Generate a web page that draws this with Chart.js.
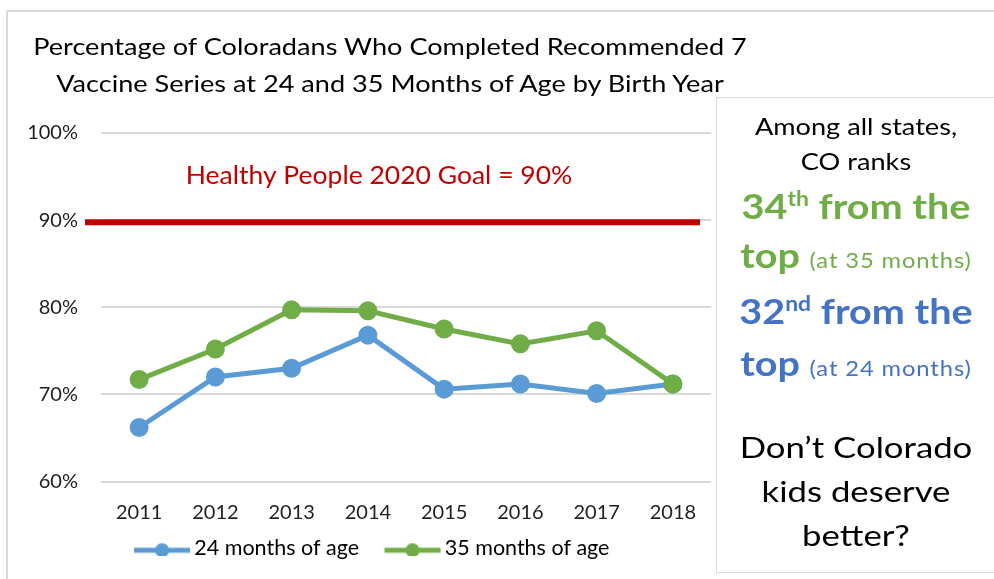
<!DOCTYPE html>
<html>
<head>
<meta charset="utf-8">
<script src="https://cdn.jsdelivr.net/npm/chart.js@4/dist/chart.umd.min.js"></script>
<style>
  body { margin: 0; background: #fff; font-family: Lato, sans-serif; }
  #wrap { position: relative; width: 994px; height: 579px; overflow: hidden; background: #fff; }
  #frame { position: absolute; left: 6px; top: 10px; width: 1000px; height: 600px;
           border-top: 2px solid #d9d9d9; border-left: 2px solid #d9d9d9; }
  #chart { position: absolute; left: 0; top: 0; }
  #title { position: absolute; left: 0; top: 28px; width: 780px; text-align: center;
           font-size: 24px; line-height: 36.7px; color: #000; transform: scaleX(1.13); }
  #side { position: absolute; left: 716px; top: 97px; width: 290px; height: 476px;
          background: #fff; border: 1px solid #d9d9d9; box-sizing: border-box; }
  #side div { position: absolute; left: 0; width: 278px; height: 40px; line-height: 40px;
              text-align: center; white-space: nowrap; }
  #side sup { font-size: 0.58em; line-height: 0; vertical-align: 0.62em; }
  .blk { font-size: 23px; color: #000; transform: scaleX(1.18); }
  .big { font-size: 28px; color: #000; transform: scaleX(1.24); }
  .g { color: #70ad47; font-weight: bold; font-size: 35px; transform: scaleX(1.13); }
  .b { color: #4472c4; font-weight: bold; font-size: 35px; transform: scaleX(1.13); }
  .sm { font-weight: normal; font-size: 21px; letter-spacing: 0.8px; }
</style>
</head>
<body>
<div id="wrap">
  <div id="frame"></div>
  <canvas id="chart" width="994" height="579"></canvas>
  <div id="title">Percentage of Coloradans Who Completed Recommended 7<br>Vaccine Series at 24 and 35 Months of Age by Birth Year</div>
  <div id="side">
    <div class="blk" style="top:8px">Among all states,</div>
    <div class="blk" style="top:43px">CO ranks</div>
    <div class="g" style="top:87px">34<sup>th</sup> from the</div>
    <div class="g" style="top:136px">top <span class="sm">(at 35 months)</span></div>
    <div class="b" style="top:192px">32<sup>nd</sup> from the</div>
    <div class="b" style="top:244px">top <span class="sm">(at 24 months)</span></div>
    <div class="big" style="top:329px">Don’t Colorado</div>
    <div class="big" style="top:373px">kids deserve</div>
    <div class="big" style="top:417px">better?</div>
  </div>
</div>
<script>
const years = ['2011', '2012', '2013', '2014', '2015', '2016', '2017', '2018']
const months24 = [66.2, 72.0, 73.0, 76.8, 70.6, 71.2, 70.1, 71.2]
const months35 = [71.7, 75.2, 79.7, 79.6, 77.5, 75.8, 77.3, 71.2]
const goal = 90
const goalLabel = 'Healthy People 2020 Goal = 90%'

const blue = '#5b9bd5'
const green = '#70ad47'
const red = '#c00000'
const tickColor = '#1e1e1e'

// line + dot sample for the legend; the empty left part of the box acts as the gap between items
function legendMark(color) {
    let c = document.createElement('canvas')
    c.width = 82
    c.height = 16
    let ctx = c.getContext('2d')
    ctx.strokeStyle = color
    ctx.lineWidth = 5
    ctx.beginPath()
    ctx.moveTo(25, 10)
    ctx.lineTo(81, 10)
    ctx.stroke()
    ctx.fillStyle = color
    ctx.beginPath()
    ctx.arc(53, 10, 7, 0, Math.PI * 2)
    ctx.fill()
    return c
}

const goalLine = {
    id: 'goalLine',
    afterDatasetsDraw(chart) {
        const ctx = chart.ctx
        const area = chart.chartArea
        const y = chart.scales.y.getPixelForValue(goal) + 2
        ctx.save()
        ctx.strokeStyle = red
        ctx.lineWidth = 6
        ctx.beginPath()
        ctx.moveTo(area.left - 16, y)
        ctx.lineTo(area.right - 11, y)
        ctx.stroke()
        ctx.fillStyle = red
        ctx.font = '25px Lato'
        ctx.textAlign = 'center'
        ctx.textBaseline = 'alphabetic'
        ctx.translate(379, y - 38)
        ctx.scale(1.06, 1)
        ctx.fillText(goalLabel, 0, 0)
        ctx.restore()
    }
}

const data = {
    labels: years,
    datasets: [{
        label: '24 months of age',
        data: months24,
        borderColor: blue,
        backgroundColor: blue,
        borderWidth: 5,
        pointRadius: 7,
        pointHoverRadius: 7,
        order: 1
    }, {
        label: '35 months of age',
        data: months35,
        borderColor: green,
        backgroundColor: green,
        borderWidth: 5,
        pointRadius: 7,
        pointHoverRadius: 7,
        order: 0
    }]
}

const marks = [legendMark(blue), legendMark(green)]

const config = {
    type: 'line',
    data: data,
    plugins: [goalLine],
    options: {
        responsive: false,
        animation: false,
        layout: { padding: { left: 15, right: 283, top: 133, bottom: 10 } },
        plugins: {
            tooltip: { enabled: false },
            legend: {
                position: 'bottom',
                labels: {
                    usePointStyle: true,
                    pointStyleWidth: 67,
                    padding: 8,
                    color: tickColor,
                    font: { family: 'Lato', size: 21.5 },
                    generateLabels(chart) {
                        return chart.data.datasets.map((ds, i) => ({
                            text: ds.label,
                            pointStyle: marks[i],
                            fillStyle: ds.borderColor,
                            strokeStyle: ds.borderColor,
                            lineWidth: 0,
                            datasetIndex: i,
                            hidden: false
                        }))
                    }
                }
            }
        },
        scales: {
            x: {
                offset: true,
                grid: { display: false, drawTicks: false },
                border: { display: false },
                ticks: { padding: 19, maxRotation: 0, color: tickColor, font: { family: 'Lato', size: 20 } },
                afterFit(scale) {
                    scale.paddingLeft = 0
                    scale.paddingRight = 0
                    scale.height = 48
                }
            },
            y: {
                min: 60,
                max: 100,
                grid: { color: '#d9d9d9', lineWidth: 2, drawTicks: false },
                border: { display: false },
                ticks: {
                    stepSize: 10,
                    padding: 23,
                    color: tickColor,
                    font: { family: 'Lato', size: 20 },
                    callback: v => v + '%'
                },
                afterFit(scale) {
                    scale.width = 86
                }
            }
        }
    }
}

let ctx = document.getElementById('chart').getContext('2d')
new Chart(ctx, config)
</script>
</body>
</html>
